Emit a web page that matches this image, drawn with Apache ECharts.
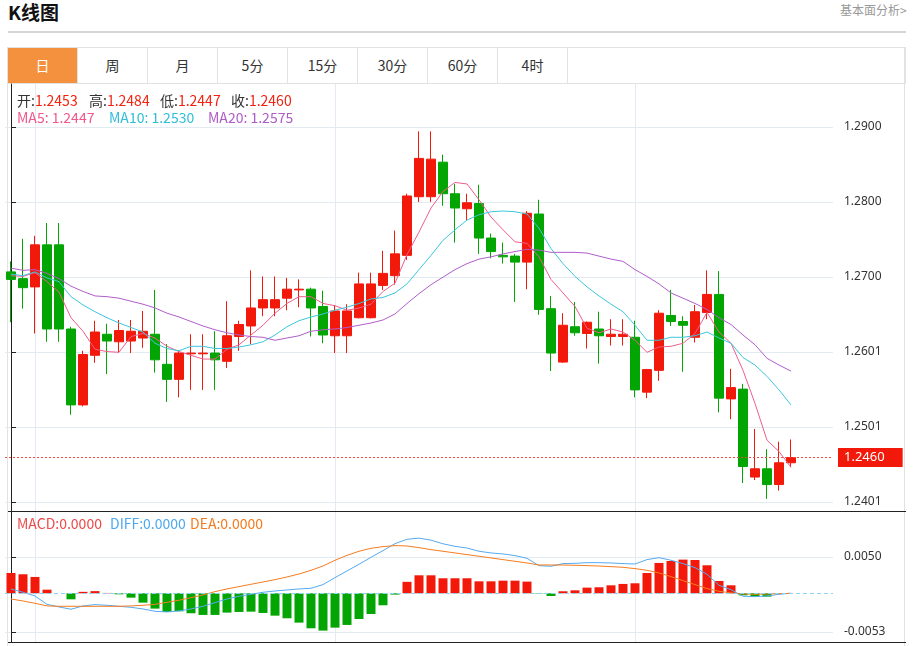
<!DOCTYPE html>
<html>
<head>
<meta charset="utf-8">
<script src="https://cdn.jsdelivr.net/npm/echarts@6/dist/echarts.min.js"></script>
<style>
  html, body { margin:0; padding:0; }
  body { width:913px; height:646px; overflow:hidden; background:#fff; position:relative;
         font-family:"Microsoft YaHei","Noto Sans CJK SC",sans-serif; }
  #title { position:absolute; left:8px; top:0px; font-size:19px; font-weight:bold; color:#111; line-height:24px; }
  #more { position:absolute; left:840px; top:2px; font-size:12px; color:#999; line-height:16px; }
  #hr { position:absolute; left:8px; top:31px; width:898px; height:2px; background:#d6d6d6; }
  #frame { position:absolute; left:7px; top:47px; width:898px; height:620px; border:1px solid #e2e2e2; box-sizing:border-box; }
  #tabrow { position:absolute; left:7px; top:47px; width:899px; height:37px; border:1px solid #e2e2e2; box-sizing:border-box; }
  .tab { position:absolute; top:0; width:70px; height:35px; line-height:35px; text-align:center;
         border-right:1px solid #e2e2e2; box-sizing:border-box; font-size:14px; color:#333; }
  .tab.active { background:#f4913f; color:#fff; }
  #chart { position:absolute; left:0; top:0; width:913px; height:646px; }
  .lg { position:absolute; font-size:14px; line-height:16px; white-space:nowrap; z-index:5; }
  .k { color:#333; }
  .rv { color:#f2220f; }
</style>
</head>
<body>
<div id="title">K线图</div>
<div id="more">基本面分析&gt;</div>
<div id="hr"></div>
<div id="frame"></div>
<div id="tabrow"></div>
<div id="chart"></div>
<div class="lg" id="lgO" style="left:17px;top:92px"></div>
<div class="lg" id="lgH" style="left:89px;top:92px"></div>
<div class="lg" id="lgL" style="left:160px;top:92px"></div>
<div class="lg" id="lgC" style="left:231px;top:92px"></div>
<div class="lg" id="lgMA5" style="left:17px;top:109px;color:#f0588c"></div>
<div class="lg" id="lgMA10" style="left:109px;top:109px;color:#2fbfd8"></div>
<div class="lg" id="lgMA20" style="left:208px;top:109px;color:#ad5cc8"></div>
<div class="lg" id="lgMACD" style="left:17px;top:515px;color:#ee4a4a"></div>
<div class="lg" id="lgDIFF" style="left:110px;top:515px;color:#4ea8f0"></div>
<div class="lg" id="lgDEA" style="left:190px;top:515px;color:#f37a20"></div>
<script>
const tabLabels = ['日', '周', '月', '5分', '15分', '30分', '60分', '4时'];

const openPrices = [1.2707,1.2698,1.2687,1.2743,1.2743,1.2631,1.2530,1.2596,1.2624,1.2614,
  1.2615,1.2619,1.2624,1.2584,1.2564,1.2598,1.2598,1.2599,1.2588,1.2621,
  1.2635,1.2659,1.2659,1.2672,1.2683,1.2684,1.2661,1.2622,1.2622,1.2646,
  1.2646,1.2689,1.2702,1.2729,1.2807,1.2807,1.2853,1.2811,1.2791,1.2798,
  1.2752,1.2729,1.2728,1.2720,1.2784,1.2658,1.2587,1.2634,1.2625,1.2631,
  1.2621,1.2621,1.2620,1.2547,1.2576,1.2649,1.2641,1.2620,1.2653,1.2677,
  1.2538,1.2551,1.2434,1.2445,1.2424,1.2453];
const closePrices = [1.2697,1.2686,1.2743,1.2631,1.2631,1.2530,1.2597,1.2627,1.2615,1.2629,
  1.2628,1.2628,1.2590,1.2564,1.2599,1.2599,1.2599,1.2590,1.2622,1.2637,
  1.2659,1.2670,1.2670,1.2684,1.2684,1.2659,1.2623,1.2655,1.2655,1.2691,
  1.2691,1.2705,1.2731,1.2808,1.2858,1.2857,1.2811,1.2792,1.2799,1.2752,
  1.2734,1.2727,1.2720,1.2785,1.2657,1.2599,1.2636,1.2626,1.2640,1.2622,
  1.2624,1.2624,1.2550,1.2577,1.2652,1.2641,1.2636,1.2654,1.2677,1.2539,
  1.2553,1.2448,1.2445,1.2424,1.2453,1.2460];
const highPrices = [1.2721,1.2751,1.2755,1.2772,1.2772,1.2634,1.2602,1.2642,1.2638,1.2643,
  1.2643,1.2655,1.2683,1.2611,1.2603,1.2624,1.2624,1.2628,1.2668,1.2642,
  1.2709,1.2701,1.2701,1.2699,1.2697,1.2686,1.2682,1.2663,1.2664,1.2706,
  1.2706,1.2735,1.2762,1.2811,1.2894,1.2894,1.2863,1.2824,1.2811,1.2823,
  1.2758,1.2746,1.2731,1.2788,1.2803,1.2675,1.2652,1.2667,1.2641,1.2654,
  1.2644,1.2644,1.2642,1.2578,1.2656,1.2683,1.2648,1.2663,1.2709,1.2708,
  1.2578,1.2558,1.2498,1.2471,1.2481,1.2484];
const lowPrices = [1.2640,1.2658,1.2625,1.2614,1.2614,1.2517,1.2528,1.2586,1.2571,1.2600,
  1.2599,1.2606,1.2573,1.2534,1.2540,1.2550,1.2550,1.2550,1.2579,1.2602,
  1.2611,1.2648,1.2648,1.2656,1.2660,1.2621,1.2612,1.2599,1.2599,1.2645,
  1.2645,1.2683,1.2690,1.2723,1.2800,1.2800,1.2795,1.2746,1.2775,1.2731,
  1.2725,1.2718,1.2667,1.2684,1.2650,1.2575,1.2586,1.2622,1.2605,1.2585,
  1.2609,1.2609,1.2540,1.2539,1.2562,1.2635,1.2574,1.2613,1.2644,1.2520,
  1.2511,1.2426,1.2430,1.2405,1.2416,1.2447];

const ma5 = [1.2702,1.2701,1.2706,1.2694,1.2680,1.2646,1.2628,1.2604,1.2601,1.2600,
  1.2621,1.2625,1.2619,1.2608,1.2601,1.2596,1.2591,1.2591,1.2604,1.2610,
  1.2623,1.2636,1.2652,1.2665,1.2674,1.2674,1.2665,1.2662,1.2656,1.2659,
  1.2664,1.2681,1.2692,1.2730,1.2760,1.2792,1.2814,1.2826,1.2824,1.2803,
  1.2780,1.2763,1.2747,1.2745,1.2727,1.2697,1.2679,1.2661,1.2632,1.2626,
  1.2631,1.2627,1.2616,1.2600,1.2607,1.2608,1.2612,1.2625,1.2653,1.2627,
  1.2612,1.2576,1.2532,1.2483,1.2468,1.2447];
const ma10 = [1.2704,1.2702,1.2707,1.2699,1.2694,1.2674,1.2663,1.2654,1.2646,1.2639,
  1.2633,1.2627,1.2612,1.2605,1.2602,1.2608,1.2608,1.2605,1.2605,1.2607,
  1.2610,1.2614,1.2623,1.2634,1.2642,1.2647,1.2651,1.2656,1.2660,1.2665,
  1.2671,1.2673,1.2679,1.2691,1.2710,1.2729,1.2749,1.2763,1.2776,1.2783,
  1.2787,1.2788,1.2787,1.2784,1.2765,1.2738,1.2718,1.2701,1.2687,1.2675,
  1.2664,1.2654,1.2636,1.2616,1.2616,1.2620,1.2620,1.2622,1.2627,1.2619,
  1.2612,1.2593,1.2583,1.2568,1.2550,1.2530];
const ma20 = [1.2712,1.2709,1.2710,1.2705,1.2698,1.2688,1.2681,1.2675,1.2674,1.2672,
  1.2668,1.2664,1.2659,1.2652,1.2647,1.2641,1.2635,1.2630,1.2626,1.2623,
  1.2621,1.2620,1.2616,1.2619,1.2622,1.2628,1.2630,1.2631,1.2633,1.2636,
  1.2639,1.2643,1.2651,1.2665,1.2678,1.2690,1.2700,1.2710,1.2718,1.2724,
  1.2727,1.2731,1.2734,1.2737,1.2736,1.2733,1.2733,1.2733,1.2732,1.2728,
  1.2724,1.2721,1.2710,1.2701,1.2691,1.2679,1.2672,1.2665,1.2657,1.2646,
  1.2637,1.2623,1.2610,1.2592,1.2583,1.2575];

const macdHist = [0.0028,0.00262,0.00225,0.0005,0,-0.00083,0.0002,0.0003,0.00005,-0.00014,
  -0.0006,-0.00129,-0.00211,-0.00257,-0.00248,-0.00275,-0.00298,-0.00298,-0.00266,-0.00257,
  -0.00253,-0.00271,-0.00308,-0.00344,-0.00404,-0.00482,-0.00514,-0.00473,-0.00436,-0.00354,
  -0.00285,-0.00165,-0.00018,0.00158,0.00248,0.00248,0.00207,0.00207,0.00207,0.00165,
  0.00165,0.00174,0.00174,0.00161,-0.00005,-0.00037,0.00028,0.00041,0.00078,0.00083,
  0.0011,0.00129,0.00138,0.0028,0.00418,0.00445,0.00464,0.00459,0.00386,0.0017,
  0.0011,-0.00028,-0.00046,-0.00046,-0.00005,0];
const diffLine = [0.0006,0.00014,-0.00037,-0.00152,-0.00188,-0.0022,-0.00174,-0.00156,-0.00165,-0.00179,
  -0.00193,-0.00216,-0.00248,-0.00257,-0.00243,-0.00216,-0.00179,-0.00129,-0.00078,-0.00041,
  -0.00014,0.00014,0.00032,0.00046,0.0006,0.00069,0.0012,0.00216,0.00308,0.004,
  0.00496,0.00588,0.00684,0.00744,0.0076,0.00732,0.00682,0.00647,0.00624,0.00579,
  0.00556,0.00542,0.00519,0.00482,0.00381,0.00372,0.00409,0.00413,0.00422,0.00422,
  0.00418,0.00409,0.00404,0.00464,0.00491,0.00455,0.00409,0.00354,0.00262,0.0011,
  0.0005,-0.00041,-0.00046,-0.00037,-0.00014,0];
const deaLine = [-0.00078,-0.00106,-0.00138,-0.00174,-0.00179,-0.00179,-0.00179,-0.00179,-0.00179,-0.00179,
  -0.00174,-0.00165,-0.00152,-0.00124,-0.00096,-0.0006,-0.00023,0.00023,0.0006,0.00092,
  0.00124,0.00156,0.00188,0.00225,0.00266,0.00317,0.00376,0.00455,0.00523,0.00579,
  0.0062,0.00643,0.00657,0.00652,0.00629,0.00601,0.00579,0.00556,0.00533,0.0051,
  0.00487,0.00464,0.00441,0.00418,0.0039,0.0039,0.0039,0.00386,0.00381,0.00376,
  0.00367,0.00358,0.0034,0.00317,0.0028,0.0023,0.00174,0.0012,0.00064,0.00028,
  0.00005,-0.00009,-0.00014,-0.00009,-0.00005,0];

const priceTicks = [1.2401, 1.25008, 1.26006, 1.27004, 1.28002, 1.2900];
const macdTicks = [-0.0053, 0.0050];
const verticalGridIndices = [2, 27, 52];
const slotCount = 69;

// ---------- HTML pieces ----------
const tabrow = document.getElementById('tabrow');
tabLabels.forEach((t, i) => {
  const d = document.createElement('div');
  d.className = 'tab' + (i === 0 ? ' active' : '');
  d.style.left = (i * 70) + 'px';
  d.textContent = t;
  tabrow.appendChild(d);
});
const n = closePrices.length - 1;
const f4 = v => v.toFixed(4);
const setLg = (id, label, value, cls) => {
  document.getElementById(id).innerHTML = cls
    ? '<span class="k">' + label + '</span><span class="' + cls + '">' + value + '</span>'
    : label + value;
};
setLg('lgO', '开:', f4(openPrices[n]), 'rv');
setLg('lgH', '高:', f4(highPrices[n]), 'rv');
setLg('lgL', '低:', f4(lowPrices[n]), 'rv');
setLg('lgC', '收:', f4(closePrices[n]), 'rv');
setLg('lgMA5', 'MA5: ', f4(ma5[n]));
setLg('lgMA10', 'MA10: ', f4(ma10[n]));
setLg('lgMA20', 'MA20: ', f4(ma20[n]));
setLg('lgMACD', 'MACD:', f4(macdHist[n]));
setLg('lgDIFF', 'DIFF:', f4(diffLine[n]));
setLg('lgDEA', 'DEA:', f4(deaLine[n]));

// ---------- chart ----------
const UP = '#f2190b', DOWN = '#03a503';
const GRIDC = '#e3ebf2';
const categories = Array.from({length: slotCount}, (_, i) => String(i + 1));
const kData = openPrices.map((o, i) => [o, closePrices[i], lowPrices[i], highPrices[i]]);

const chart = echarts.init(document.getElementById('chart'), null, {renderer: 'canvas'});
const G0 = {left: 5, top: 84, width: 828, height: 428};
const G1 = {left: 5, top: 512, width: 828, height: 130};

const catAxis = (gi) => ({
  type: 'category', gridIndex: gi, data: categories, boundaryGap: true,
  axisLine: {show: false}, axisTick: {show: false}, axisLabel: {show: false}, splitLine: {show: false}
});
const vAxis = (gi) => ({
  type: 'value', gridIndex: gi, min: -0.5, max: slotCount - 0.5,
  axisLine: {show: false}, axisLabel: {show: false},
  axisTick: {show: false, customValues: verticalGridIndices},
  splitLine: {show: true, lineStyle: {color: GRIDC, width: 1}}
});
const yAx = (gi, min, max, ticks) => ({
  type: 'value', gridIndex: gi, position: 'right', offset: 3, min: min, max: max,
  axisLine: {show: true, lineStyle: {color: '#222', width: 1}},
  axisTick: {show: true, length: 5, customValues: ticks, lineStyle: {color: '#222'}},
  axisLabel: {show: true, customValues: ticks, margin: 8, color: '#333', fontSize: 12,
              fontFamily: 'Noto Sans, sans-serif', formatter: v => v.toFixed(4)},
  splitLine: {show: true, lineStyle: {color: GRIDC, width: 1}}
});

chart.setOption({
  animation: false,
  backgroundColor: 'transparent',
  grid: [G0, G1],
  xAxis: [catAxis(0), catAxis(1), vAxis(0), vAxis(1)],
  yAxis: [yAx(0, 1.23875, 1.2957, priceTicks), yAx(1, -0.00671, 0.0112, macdTicks)],
  graphic: [
    {type: 'line', z: 100, shape: {x1: 8, y1: 511.5, x2: 906, y2: 511.5}, style: {stroke: '#222', lineWidth: 1}},
    {type: 'line', z: 100, shape: {x1: 8, y1: 642.5, x2: 906, y2: 642.5}, style: {stroke: '#222', lineWidth: 1}}
  ],
  series: [
    {
      type: 'candlestick', xAxisIndex: 0, yAxisIndex: 0, data: kData, barWidth: 9, z: 2,
      itemStyle: {color: UP, color0: DOWN, borderColor: UP, borderColor0: DOWN, borderWidth: 1},
      markLine: {
        silent: true, symbol: 'none', animation: false, precision: 4,
        data: [{yAxis: closePrices[n]}],
        lineStyle: {color: '#f04a3e', type: [2, 2], width: 1},
        label: {show: true, position: 'end', distance: 5, formatter: () => f4(closePrices[n]),
                color: '#fff', backgroundColor: UP, fontSize: 13, lineHeight: 13,
                fontFamily: 'Noto Sans, sans-serif', padding: [3, 18, 3, 6]}
      }
    },
    {type: 'line', name: 'MA5', xAxisIndex: 0, yAxisIndex: 0, data: ma5, showSymbol: false, z: 3,
     lineStyle: {color: '#ee5d8c', width: 1}},
    {type: 'line', name: 'MA10', xAxisIndex: 0, yAxisIndex: 0, data: ma10, showSymbol: false, z: 3,
     lineStyle: {color: '#3cc6dc', width: 1}},
    {type: 'line', name: 'MA20', xAxisIndex: 0, yAxisIndex: 0, data: ma20, showSymbol: false, z: 3,
     lineStyle: {color: '#b05ec9', width: 1}},
    {
      type: 'bar', name: 'MACD', xAxisIndex: 1, yAxisIndex: 1, data: macdHist, barWidth: 9, z: 2,
      itemStyle: {color: p => (p.value >= 0 ? UP : DOWN)},
      markLine: {
        silent: true, symbol: 'none', animation: false, precision: 6, label: {show: false},
        data: [{yAxis: 0}],
        lineStyle: {color: '#8fd2ef', type: [4, 3], width: 1}
      }
    },
    {type: 'line', name: 'DIFF', xAxisIndex: 1, yAxisIndex: 1, data: diffLine, showSymbol: false, z: 3,
     lineStyle: {color: '#55aaf0', width: 1}},
    {type: 'line', name: 'DEA', xAxisIndex: 1, yAxisIndex: 1, data: deaLine, showSymbol: false, z: 3,
     lineStyle: {color: '#f57c20', width: 1}}
  ]
});
</script>
</body>
</html>
